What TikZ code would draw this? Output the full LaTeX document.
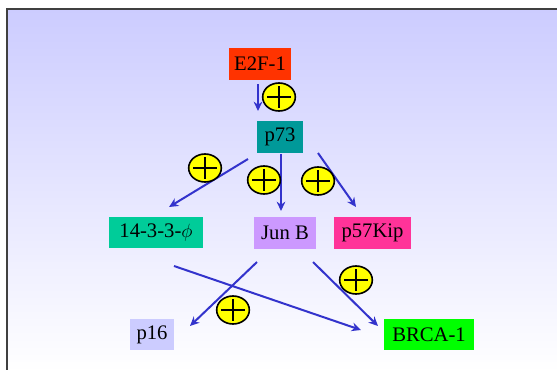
\documentclass[tikz,border=0pt]{standalone}
\usepackage{fontspec}
\setmainfont{Liberation Serif}
\usetikzlibrary{arrows.meta,shapes.geometric}
\definecolor{bgtop}{HTML}{CCCCFF}
\definecolor{arrowblue}{HTML}{3333CC}
\definecolor{cE}{HTML}{FF3300}
\definecolor{cP}{HTML}{009999}
\definecolor{cF}{HTML}{00CC99}
\definecolor{cJ}{HTML}{CC99FF}
\definecolor{cK}{HTML}{FF3399}
\definecolor{cS}{HTML}{CCCCFF}
\definecolor{cB}{HTML}{00FF00}
\definecolor{plusyellow}{HTML}{FFFF00}
\tikzset{
  gene/.style={rectangle, inner sep=0pt, minimum height=24pt, font=\fontsize{15.5}{17}\selectfont, text=black},
  act/.style={draw=arrowblue, line width=1.5pt, -{Stealth[length=7pt,width=6.5pt]}},
  plusmark/.style={ellipse, draw=black, line width=1.2pt, fill=plusyellow, minimum width=24.5pt, minimum height=21pt, inner sep=0pt,
    path picture={\draw[line width=2pt, black] ([xshift=-9pt]path picture bounding box.center) -- ([xshift=9pt]path picture bounding box.center)
      ([yshift=-8pt]path picture bounding box.center) -- ([yshift=8pt]path picture bounding box.center);}}
}
\begin{document}
\begin{tikzpicture}[x=0.75pt,y=-0.75pt]
\useasboundingbox (0,0) rectangle (557,369);
\shade[top color=bgtop, bottom color=white] (7,9) rectangle (560,372);
\draw[line width=0.9pt, black!75] (7,372) -- (7,9) -- (560,9);

\node[gene, fill=cE, minimum width=46.5pt] (e2f) at (260,64) {E2F-1};
\node[gene, fill=cP, minimum width=34.5pt] (p73) at (280,137) {p73};
\node[gene, fill=cF, minimum width=70.5pt, minimum height=23.25pt] (f14) at (156,232.5) {14-3-3-$\phi$};
\node[gene, fill=cJ, minimum width=46.5pt] (junb) at (285,233) {Jun B};
\node[gene, fill=cK, minimum width=57.75pt] (p57) at (372.5,233) {p57Kip};
\node[gene, fill=cS, minimum width=33pt, minimum height=23.25pt] (p16) at (152,334.5) {p16};
\node[gene, fill=cB, minimum width=67.5pt, minimum height=23.25pt] (brca) at (429,334.5) {BRCA-1};

\coordinate (e2fo) at (258,84);
\coordinate (p73i) at (258,111);
\coordinate (p73o1) at (248,159);
\coordinate (f14i) at (169,207);
\coordinate (p73o2) at (281,154);
\coordinate (junbi) at (281,211);
\coordinate (p73o3) at (318,153);
\coordinate (p57i) at (356,207);
\coordinate (f14o) at (174,266);
\coordinate (brcai1) at (361,330);
\coordinate (junbo1) at (257,262);
\coordinate (p16i) at (190,326);
\coordinate (junbo2) at (313,262);
\coordinate (brcai2) at (378,326);

\draw[act] (e2fo) -- (p73i);
\draw[act] (p73o1) -- (f14i);
\draw[act] (p73o2) -- (junbi);
\draw[act] (p73o3) -- (p57i);
\draw[act] (f14o) -- (brcai1);
\draw[act] (junbo1) -- (p16i);
\draw[act] (junbo2) -- (brcai2);

\node[plusmark] (pl1) at (279,97) {};
\node[plusmark] (pl2) at (205,168) {};
\node[plusmark] (pl3) at (264,180) {};
\node[plusmark] (pl4) at (318,181) {};
\node[plusmark] (pl5) at (233,310) {};
\node[plusmark] (pl6) at (356,280) {};
\end{tikzpicture}
\end{document}
